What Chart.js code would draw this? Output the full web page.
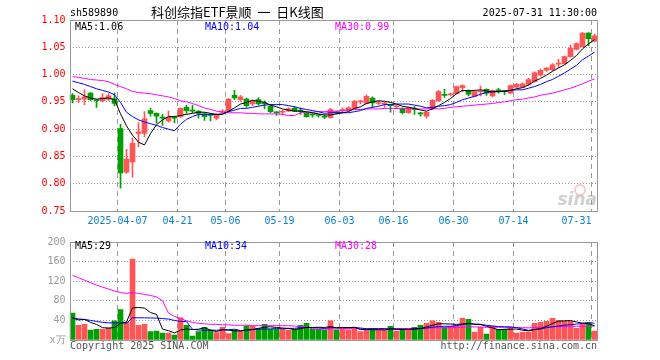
<!DOCTYPE html>
<html>
<head>
<meta charset="utf-8">
<script src="https://cdn.jsdelivr.net/npm/chart.js@4.4.1/dist/chart.umd.min.js"></script>
<style>
html, body { margin: 0; padding: 0; background: #fff; }
canvas { display: block; }
</style>
</head>
<body>
<canvas id="kline" width="660" height="232"></canvas>
<canvas id="vol" width="660" height="128"></canvas>
<script>
// 交易日
const dates = [
  '2025-03-25','2025-03-26','2025-03-27','2025-03-28','2025-03-31',
  '2025-04-01','2025-04-02','2025-04-03','2025-04-07','2025-04-08','2025-04-09','2025-04-10','2025-04-11',
  '2025-04-14','2025-04-15','2025-04-16','2025-04-17','2025-04-18','2025-04-21','2025-04-22','2025-04-23',
  '2025-04-24','2025-04-25','2025-04-28','2025-04-29','2025-04-30',
  '2025-05-06','2025-05-07','2025-05-08','2025-05-09','2025-05-12','2025-05-13','2025-05-14','2025-05-15',
  '2025-05-16','2025-05-19','2025-05-20','2025-05-21','2025-05-22','2025-05-23','2025-05-26','2025-05-27',
  '2025-05-28','2025-05-29','2025-05-30',
  '2025-06-03','2025-06-04','2025-06-05','2025-06-06','2025-06-09','2025-06-10','2025-06-11','2025-06-12',
  '2025-06-13','2025-06-16','2025-06-17','2025-06-18','2025-06-19','2025-06-20','2025-06-23','2025-06-24',
  '2025-06-25','2025-06-26','2025-06-27','2025-06-30',
  '2025-07-01','2025-07-02','2025-07-03','2025-07-04','2025-07-07','2025-07-08','2025-07-09','2025-07-10',
  '2025-07-11','2025-07-14','2025-07-15','2025-07-16','2025-07-17','2025-07-18','2025-07-21','2025-07-22',
  '2025-07-23','2025-07-24','2025-07-25','2025-07-28','2025-07-29','2025-07-30','2025-07-31'
];

const openP = [
  0.962,0.954,0.955,0.966,0.953,0.952,0.955,0.956,0.901,0.821,
  0.840,0.892,0.892,0.934,0.929,0.922,0.915,0.921,0.923,0.940,
  0.934,0.933,0.928,0.926,0.920,0.931,0.933,0.962,0.954,0.955,
  0.946,0.954,0.948,0.942,0.931,0.931,0.933,0.938,0.934,0.930,
  0.927,0.926,0.924,0.921,0.931,0.934,0.934,0.938,0.950,0.947,
  0.957,0.947,0.946,0.944,0.941,0.938,0.930,0.938,0.929,0.924,
  0.937,0.952,0.964,0.963,0.965,0.976,0.971,0.960,0.968,0.973,
  0.961,0.972,0.970,0.966,0.977,0.977,0.982,0.987,0.999,1.008,
  1.009,1.019,1.020,1.033,1.046,1.051,1.076,1.061
];
const highP = [
  0.965,0.961,0.972,0.967,0.954,0.965,0.965,0.966,0.909,0.863,
  0.884,0.912,0.932,0.938,0.930,0.927,0.933,0.924,0.939,0.944,
  0.944,0.934,0.930,0.929,0.928,0.936,0.956,0.971,0.962,0.957,
  0.953,0.958,0.952,0.944,0.932,0.935,0.939,0.941,0.939,0.931,
  0.928,0.927,0.926,0.938,0.933,0.939,0.941,0.953,0.953,0.963,
  0.959,0.952,0.950,0.946,0.943,0.939,0.941,0.942,0.931,0.932,
  0.954,0.971,0.973,0.966,0.979,0.981,0.972,0.970,0.979,0.974,
  0.972,0.975,0.971,0.981,0.984,0.985,0.993,1.005,1.010,1.013,
  1.020,1.028,1.034,1.054,1.058,1.077,1.077,1.074
];
const lowP = [
  0.948,0.949,0.945,0.952,0.940,0.950,0.952,0.943,0.792,0.819,
  0.812,0.868,0.886,0.924,0.911,0.907,0.913,0.912,0.921,0.929,
  0.930,0.920,0.916,0.915,0.917,0.929,0.932,0.954,0.951,0.940,
  0.943,0.944,0.937,0.930,0.925,0.926,0.932,0.932,0.927,0.922,
  0.922,0.922,0.919,0.920,0.928,0.930,0.933,0.936,0.946,0.946,
  0.940,0.945,0.940,0.931,0.937,0.928,0.929,0.927,0.924,0.920,
  0.936,0.951,0.958,0.961,0.964,0.968,0.961,0.959,0.961,0.962,
  0.959,0.966,0.963,0.965,0.975,0.976,0.980,0.986,0.997,1.006,
  1.007,1.013,1.019,1.032,1.045,1.050,1.053,1.060
];
const closeP = [
  0.954,0.955,0.959,0.954,0.952,0.958,0.961,0.947,0.820,0.845,
  0.874,0.895,0.919,0.929,0.924,0.920,0.922,0.920,0.938,0.934,
  0.933,0.929,0.923,0.925,0.927,0.933,0.955,0.957,0.959,0.943,
  0.951,0.946,0.946,0.932,0.930,0.932,0.937,0.933,0.933,0.923,
  0.926,0.925,0.922,0.936,0.930,0.935,0.939,0.951,0.951,0.960,
  0.948,0.948,0.947,0.943,0.942,0.930,0.939,0.936,0.928,0.931,
  0.953,0.969,0.962,0.964,0.978,0.980,0.964,0.969,0.969,0.966,
  0.971,0.968,0.969,0.980,0.982,0.983,0.991,1.003,1.008,1.012,
  1.018,1.020,1.033,1.048,1.057,1.076,1.066,1.071
];

// 均线
const ma5 = [
  0.974,0.967,0.961,0.957,0.955,0.956,0.957,0.954,0.928,0.906,
  0.889,0.876,0.871,0.892,0.908,0.917,0.923,0.923,0.925,0.927,
  0.929,0.931,0.931,0.929,0.927,0.927,0.933,0.939,0.946,0.949,
  0.953,0.951,0.949,0.944,0.941,0.937,0.935,0.933,0.933,0.932,
  0.930,0.928,0.926,0.926,0.928,0.930,0.932,0.938,0.941,0.947,
  0.950,0.952,0.951,0.949,0.946,0.942,0.940,0.938,0.935,0.933,
  0.937,0.943,0.949,0.956,0.965,0.971,0.970,0.971,0.972,0.970,
  0.968,0.969,0.969,0.971,0.974,0.976,0.981,0.988,0.993,0.999,
  1.006,1.012,1.018,1.026,1.035,1.047,1.056,1.064
];
const ma10 = [
  0.988,0.985,0.982,0.978,0.974,0.971,0.968,0.963,0.949,0.931,
  0.923,0.917,0.913,0.910,0.907,0.903,0.900,0.897,0.909,0.918,
  0.923,0.927,0.927,0.927,0.927,0.928,0.932,0.935,0.938,0.938,
  0.940,0.942,0.944,0.945,0.945,0.945,0.943,0.941,0.938,0.936,
  0.934,0.932,0.929,0.930,0.930,0.930,0.930,0.932,0.934,0.938,
  0.940,0.942,0.945,0.945,0.946,0.946,0.946,0.944,0.942,0.939,
  0.940,0.942,0.943,0.945,0.949,0.954,0.957,0.960,0.964,0.967,
  0.969,0.969,0.970,0.971,0.972,0.972,0.975,0.978,0.982,0.987,
  0.991,0.997,1.003,1.010,1.017,1.027,1.034,1.041
];
const ma30 = [
  0.996,0.995,0.993,0.991,0.990,0.989,0.987,0.982,0.978,0.974,
  0.969,0.967,0.966,0.965,0.963,0.961,0.959,0.956,0.952,0.950,
  0.947,0.943,0.939,0.936,0.933,0.931,0.930,0.930,0.930,0.929,
  0.929,0.928,0.928,0.928,0.928,0.927,0.925,0.925,0.930,0.931,
  0.931,0.932,0.932,0.933,0.933,0.934,0.935,0.936,0.936,0.937,
  0.937,0.937,0.938,0.938,0.938,0.938,0.938,0.937,0.937,0.937,
  0.938,0.937,0.938,0.940,0.941,0.942,0.943,0.944,0.945,0.946,
  0.947,0.949,0.950,0.952,0.954,0.955,0.957,0.959,0.962,0.964,
  0.966,0.969,0.972,0.975,0.979,0.983,0.988,0.992
];

// 成交量（万）
const volume = [
  55,30,32,20,22,22,25,39,62,36,
  165,30,32,17,18,14,14,10,45,30,
  8,17,26,20,15,26,13,20,18,29,
  28,24,32,22,22,22,20,22,30,34,
  22,22,20,39,21,25,21,23,17,21,
  23,21,21,28,18,22,21,26,30,34,
  39,36,26,28,30,44,42,16,26,12,
  28,22,22,26,14,16,16,34,36,38,
  44,40,38,38,24,32,34,18
];
const volMa5 = [
  45,41,42,36,31.8,25.2,24.2,25.6,34,36.8,
  65.4,66.4,65,56,52.4,22.2,19,14.6,20.2,22.6,
  21.4,22,25.2,20.2,17.2,20.8,20,18.8,18.4,21.2,
  21.6,23.8,26.2,27,25.6,24.4,23.6,21.6,23.2,25.6,
  25.6,26,25.6,27.4,24.8,25.4,25.2,25.8,21.4,21.4,
  21,21,20.6,22.8,22.2,22,22,23,23.4,26.6,
  30,33,33,32.6,31.8,32.8,34,32,31.6,28,
  24.8,20.8,22,22,22.4,20,18.8,21.2,23.2,28,
  33.6,38.4,39.2,39.6,36.8,34.4,33.2,29.2
];
const volMa10 = [
  45,43,42,40,38,36,35,35,35,34.3,
  45.3,45.3,45.3,45,44.6,43.8,42.7,39.8,38.1,37.5,
  21.8,20.5,19.9,20.2,19.9,21.1,21,22,19.3,19.2,
  21.2,21.9,22.5,22.7,23.4,23,23.7,23.9,25.1,25.6,
  25,24.8,23.6,25.3,25.2,25.5,25.6,25.7,24.4,23.1,
  23.2,23.1,23.2,22.1,21.8,21.5,21.5,21.8,23.1,24.4,
  26,27.5,28,28,29.2,31.4,33.5,32.5,32.1,29.9,
  28.8,27.4,27,26.8,25.2,22.4,19.8,21.6,22.6,25.2,
  26.8,28.6,30.2,31.4,32.4,34,35.8,34.2
];
const volMa30 = [
  132,127,122,117,112,108,104,100,97,95,
  97,95,93,91,88,80,55,48,44,39,
  36,34,33,32,32,31,31,30,30,30.3,
  29.4,29.2,29.2,29.3,29.3,29.3,29.1,28.6,27.5,27.4,
  22.7,22.4,22,22.7,22.8,23.2,23.4,23.9,22.9,22.6,
  23.1,23.3,23.1,23.4,23.5,23.3,23.6,23.8,24.2,24.4,
  24.7,25.1,24.9,25.1,25.4,26.1,26.9,26.7,26.5,25.8,
  26,26,26.1,25.6,25.4,25.1,24.9,25.3,26,26.5,
  27,27.3,27.6,27.8,28,28.1,28.3,28.2
];

// 刻度
const tickDates = ['2025-04-07','2025-04-21','2025-05-06','2025-05-19','2025-06-03','2025-06-16','2025-06-30','2025-07-14','2025-07-31'];
const tickTexts = ['2025-04-07','04-21','05-06','05-19','06-03','06-16','06-30','07-14','07-31'];
const priceMin = 0.75, priceMax = 1.10, priceStep = 0.05;
const volMin = 0, volMax = 200, volStep = 40;

const upColor = '#ff5555';
const downColor = '#00a000';
const barColors = dates.map((d, i) => closeP[i] >= openP[i] ? upColor : downColor);

Chart.defaults.font.family = "'DejaVu Sans Mono', monospace";
Chart.defaults.font.size = 10;
Chart.defaults.animation = false;
Chart.defaults.plugins.legend.display = false;
Chart.defaults.plugins.tooltip.enabled = false;

const mono = "10px 'DejaVu Sans Mono', monospace";

function xAxis(showLabels) {
    return {
        type: 'category',
        offset: true,
        grid: { display: false, drawTicks: false },
        border: { display: false },
        ticks: showLabels ? {
            autoSkip: false,
            maxRotation: 0,
            minRotation: 0,
            align: 'inner',
            labelOffset: -3,
            padding: 4,
            color: '#0a7fd0',
            callback: function(v, i) {
                const k = tickDates.indexOf(dates[i]);
                return k >= 0 ? tickTexts[k] : '';
            }
        } : { display: false },
        afterFit: s => { s.height = showLabels ? 20 : 0; }
    };
}

function lineSet(label, data, color, order) {
    return { type: 'line', label: label, data: data, borderColor: color, borderWidth: 1,
             pointRadius: 0, tension: 0, order: order };
}

function drawFrame(ctx, a) {
    ctx.strokeStyle = '#999999';
    ctx.lineWidth = 1;
    const l = Math.round(a.left) + 0.5, t = Math.floor(a.top) + 0.5;
    const r = Math.floor(a.right) + 0.5, b = Math.floor(a.bottom) + 0.5;
    ctx.strokeRect(l, t, r - l, b - t);
}

// 日期竖线，画在分类的左边界
const dateLines = {
    id: 'dateLines',
    beforeDatasetsDraw(chart) {
        const { ctx, chartArea: a } = chart;
        const x = chart.scales.x;
        const half = (x.getPixelForValue(1) - x.getPixelForValue(0)) / 2;
        ctx.save();
        ctx.strokeStyle = '#999999';
        ctx.lineWidth = 1;
        ctx.setLineDash([5, 4]);
        tickDates.forEach(d => {
            const px = Math.floor(x.getPixelForValue(dates.indexOf(d)) - half) + 0.5;
            ctx.beginPath();
            ctx.moveTo(px, a.top);
            ctx.lineTo(px, a.bottom);
            ctx.stroke();
        });
        ctx.restore();
    }
};

const last = arr => arr[arr.length - 1];

// K线图
new Chart(document.getElementById('kline'), {
    type: 'bar',
    data: {
        labels: dates,
        datasets: [
            lineSet('MA5', ma5, '#000000', 1),
            lineSet('MA10', ma10, '#0000ff', 2),
            lineSet('MA30', ma30, '#ff00ff', 3),
            { label: 'body', data: dates.map((d, i) => [openP[i], closeP[i]]), backgroundColor: barColors,
              barThickness: 5, minBarLength: 1, grouped: false, borderWidth: 0, order: 4 },
            { label: 'wick', data: dates.map((d, i) => [lowP[i], highP[i]]), backgroundColor: barColors,
              barThickness: 1, grouped: false, borderWidth: 0, order: 5 }
        ]
    },
    options: {
        responsive: false,
        layout: { padding: { left: 0, right: 62.5, top: 20, bottom: 1 } },
        scales: {
            x: xAxis(true),
            y: {
                min: priceMin, max: priceMax,
                afterFit: s => { s.width = 69.5; },
                ticks: { stepSize: priceStep, color: '#ff0000', padding: 4, callback: v => v.toFixed(2) },
                grid: { drawTicks: false, color: '#999999' },
                border: { display: false, dash: [1, 2] }
            }
        }
    },
    plugins: [dateLines, {
        id: 'klineText',
        afterDraw(chart) {
            const ctx = chart.ctx, a = chart.chartArea;
            ctx.save();
            drawFrame(ctx, a);
            ctx.font = mono;
            ctx.textBaseline = 'alphabetic';
            ctx.fillStyle = '#000000';
            ctx.textAlign = 'left';
            ctx.fillText('sh589890', 70, 16);
            ctx.textAlign = 'right';
            ctx.fillText('2025-07-31 11:30:00', 597, 16);
            ctx.textAlign = 'left';
            ctx.font = "13px 'Noto Sans CJK SC', sans-serif";
            ctx.fillText('科创综指ETF景顺  一  日K线图', 151, 17);
            ctx.font = mono;
            ctx.fillStyle = '#000000';
            ctx.fillText('MA5:' + last(ma5).toFixed(2), 75, 30);
            ctx.fillStyle = '#0000ff';
            ctx.fillText('MA10:' + last(ma10).toFixed(2), 205, 30);
            ctx.fillStyle = '#ff00ff';
            ctx.fillText('MA30:' + last(ma30).toFixed(2), 335, 30);
            // 水印
            ctx.strokeStyle = 'rgba(230,140,140,0.45)';
            ctx.lineWidth = 2;
            ctx.beginPath();
            ctx.arc(580, 190, 5, 0, Math.PI * 2);
            ctx.stroke();
            ctx.fillStyle = 'rgba(150,150,150,0.45)';
            ctx.font = "italic bold 17px 'DejaVu Sans', sans-serif";
            ctx.textAlign = 'right';
            ctx.fillText('sina', 597, 205);
            ctx.restore();
        }
    }]
});

// 成交量
new Chart(document.getElementById('vol'), {
    type: 'bar',
    data: {
        labels: dates,
        datasets: [
            lineSet('MA5', volMa5, '#000000', 1),
            lineSet('MA10', volMa10, '#0000ff', 2),
            lineSet('MA30', volMa30, '#ff00ff', 3),
            { label: 'volume', data: volume, backgroundColor: barColors, barThickness: 5,
              grouped: false, borderWidth: 0, order: 4 }
        ]
    },
    options: {
        responsive: false,
        layout: { padding: { left: 0, right: 62.5, top: 8, bottom: 20 } },
        scales: {
            x: xAxis(false),
            y: {
                min: volMin, max: volMax,
                afterFit: s => { s.width = 69.5; },
                ticks: { stepSize: volStep, color: '#999999', padding: 4, callback: v => v === 0 ? 'x万' : v },
                grid: { drawTicks: false, color: '#999999' },
                border: { display: false, dash: [1, 2] }
            }
        }
    },
    plugins: [dateLines, {
        id: 'volText',
        afterDraw(chart) {
            const ctx = chart.ctx, a = chart.chartArea;
            ctx.save();
            drawFrame(ctx, a);
            ctx.font = mono;
            ctx.textBaseline = 'alphabetic';
            ctx.textAlign = 'left';
            ctx.fillStyle = '#000000';
            ctx.fillText('MA5:' + Math.round(last(volMa5)), 75, 17);
            ctx.fillStyle = '#0000ff';
            ctx.fillText('MA10:' + Math.round(last(volMa10)), 205, 17);
            ctx.fillStyle = '#ff00ff';
            ctx.fillText('MA30:' + Math.round(last(volMa30)), 335, 17);
            ctx.fillStyle = '#555555';
            ctx.fillText('Copyright 2025 SINA.COM', 70, 117);
            ctx.textAlign = 'right';
            ctx.fillText('http://finance.sina.com.cn', 597, 117);
            ctx.restore();
        }
    }]
});
</script>
</body>
</html>
